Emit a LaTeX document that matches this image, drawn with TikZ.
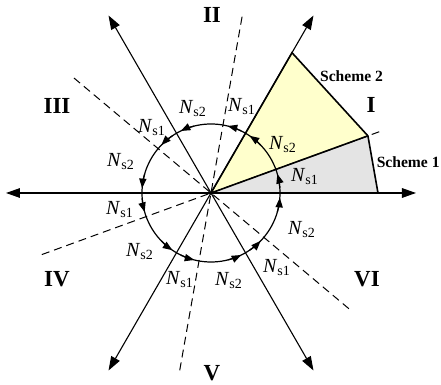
\documentclass[tikz,border=0pt]{standalone}
\usepackage{fontspec}
\setmainfont{Liberation Serif}
\usetikzlibrary{arrows.meta}
\definecolor{schemeyellow}{RGB}{255,255,204}
\definecolor{schemegray}{RGB}{228,228,228}
\newcommand{\Nsub}[1]{\textit{N}\textsubscript{s#1}}

\begin{document}
\begin{tikzpicture}[x=0.5pt,y=0.5pt,>={Triangle[length=7pt,width=4.8pt]},
  axis/.style={->,line width=0.55pt},
  sector/.style={dash pattern=on 4pt off 2.5pt,line width=0.5pt},
  flow/.style={-{Triangle[length=4.8pt,width=3.6pt]},line width=0.6pt},
  region/.style={font=\fontsize{11.5}{12}\selectfont\bfseries,inner sep=0pt},
  count/.style={font=\fontsize{10}{12}\selectfont,inner sep=0pt},
  scheme/.style={font=\fontsize{7.8}{10}\selectfont\bfseries,inner sep=0pt}]
\useasboundingbox (-211,-192) rectangle (230,193);
\coordinate (O) at (0,0);
\coordinate (A) at (60:162);
\coordinate (B) at (20:167);
\coordinate (C) at (0:167);
% the two schemes
\fill[schemeyellow] (O) -- (A) -- (B) -- cycle;
\fill[schemegray] (O) -- (B) -- (C) -- cycle;
\draw[line width=0.8pt] (O) -- (A) -- (B) -- (C);
\draw[line width=0.8pt] (O) -- (B);
% sector borders
\foreach \a in {20,80,140}
  \draw[sector] (\a+180:180) -- (\a:180);
% axes
\foreach \a in {0,60,...,300}{
  \coordinate (ax\a) at (\a:205);
  \draw[axis] (O) -- (ax\a);
}
% switching sequence
\draw[line width=0.6pt] (O) circle[radius=69];
\foreach \b in {0,20,60,80,120,140,180,200,240,260,300,320}
  \draw[flow] (\b-16:69) arc[start angle=\b-16,end angle=\b-4,radius=69];
\foreach \x/\y/\k [count=\i] in {94/16/1,72/48/2,31/86/1,-18/84/2,-59/65/1,-90/31/2,
    -91/-17/1,-71/-59/2,-31/-87/1,18/-88/2,66/-75/1,91/-37/2}
  \node[count] (n\i) at (\x,\y) {\Nsub{\k}};
\foreach \x/\y/\t in {160/88/I,1/178/II,-154/87/III,-154/-86/IV,1/-180/V,156/-86/VI}
  \node[region] (r\t) at (\x,\y) {\t};
\node[scheme] (s2) at (140.5,116.5) {Scheme 2};
\node[scheme,anchor=east] (s1) at (229,31) {Scheme 1};
\end{tikzpicture}
\end{document}
